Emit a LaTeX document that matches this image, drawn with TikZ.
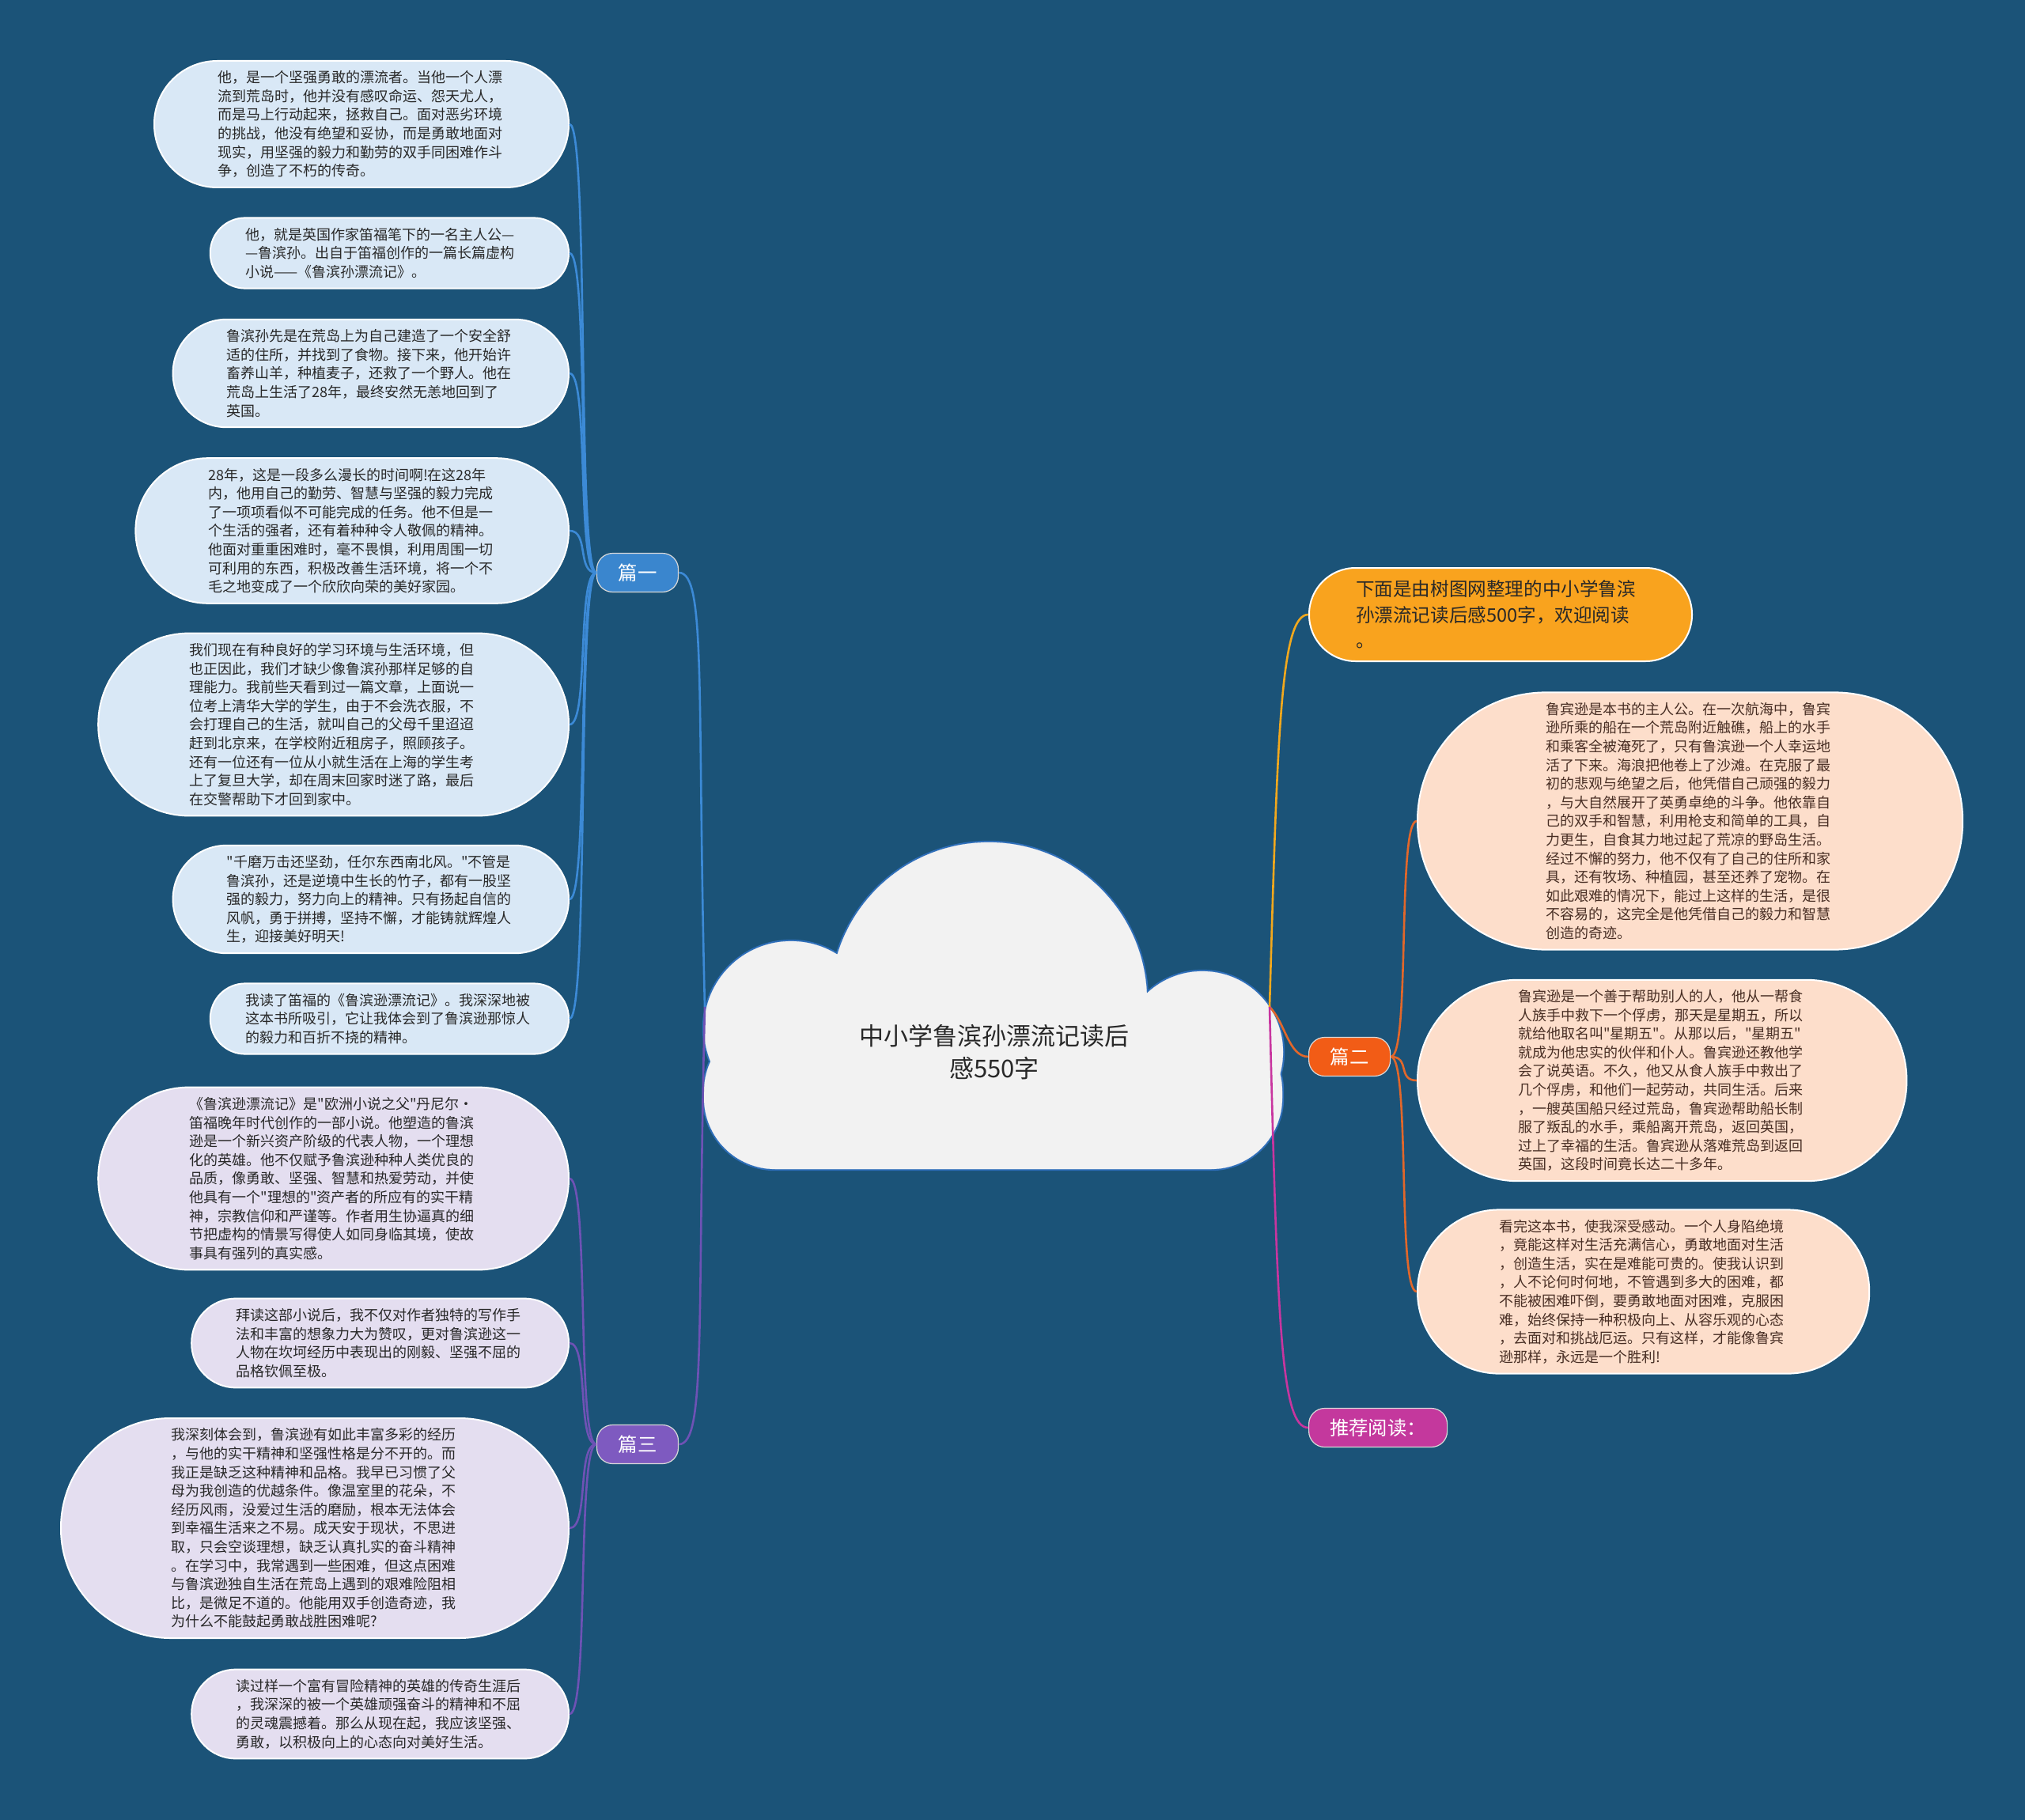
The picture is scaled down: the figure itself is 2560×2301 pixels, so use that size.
\documentclass[tikz,border=0pt]{standalone}
\usepackage{fontspec}
\newfontfamily\cjk{Noto Sans CJK SC}
\definecolor{bgblue}{RGB}{27,83,120}
\definecolor{cloudfill}{RGB}{242,242,242}
\definecolor{cloudline}{RGB}{46,110,185}
\definecolor{leafblue}{RGB}{217,232,246}
\definecolor{leafpurple}{RGB}{228,222,240}
\definecolor{leafpeach}{RGB}{253,222,203}
\definecolor{leaftext}{RGB}{40,40,40}
\definecolor{peachtext}{RGB}{72,46,36}
\definecolor{introorange}{RGB}{249,163,30}
\definecolor{topicone}{RGB}{58,134,206}
\definecolor{topicthree}{RGB}{126,90,192}
\definecolor{topictwo}{RGB}{242,92,22}
\definecolor{topicmore}{RGB}{196,56,157}
\definecolor{lineone}{RGB}{60,138,214}
\definecolor{linethree}{RGB}{110,82,181}
\definecolor{linetwo}{RGB}{226,103,42}
\definecolor{linetop}{RGB}{242,168,29}
\definecolor{linemore}{RGB}{200,53,159}
\tikzset{leaf/.style={rectangle,draw=white,line width=1pt,minimum height={11.8pt*(#1-1)+21pt},rounded corners={5.9pt*(#1-1)+10.3pt},inner xsep={5.9pt*(#1-1)+10.5pt},inner ysep=2pt,text width=182pt,align=left,text=leaftext,font=\cjk\fontsize{9}{11.8}\selectfont},
 leafone/.style={leaf=#1,fill=leafblue,anchor=east}, leafthree/.style={leaf=#1,fill=leafpurple,anchor=east}, leaftwo/.style={leaf=#1,fill=leafpeach,text=peachtext,anchor=west},
 topic/.style={draw=white!85!black,line width=.6pt,rounded corners=10pt,fill=#1,minimum width=51.5pt,minimum height=24.5pt,inner sep=0pt,text=white,font=\cjk\fontsize{12.2}{14}\selectfont},
 link/.style={line width=1.3pt,draw=#1}}

\begin{document}
\begin{tikzpicture}[x=0.5pt,y=-0.5pt]
\useasboundingbox (0,0) rectangle (2560,2301);
\fill[bgblue] (0,0) rectangle (2560,2301);
% cloud
\foreach \lw/\col in {2.2pt/cloudline,0.1pt/cloudfill}{
 \draw[line width=\lw,draw=\col,fill=\col,rounded corners=45pt] (890,1290) rectangle (1621,1478);
 \draw[line width=\lw,draw=\col,fill=\col] (1000,1300) circle[radius=55pt] (1250,1265) circle[radius=100pt] (1520,1330) circle[radius=51pt];
}
\node[align=center,text=leaftext,font=\cjk\fontsize{15.5}{20.4}\selectfont] (root) at (1257,1330) {中小学鲁滨孙漂流记读后\\感550字};
\coordinate (cl) at (891,1273);
\coordinate (cr) at (1605,1273);

% topics
\node[topic=topicone] (p1) at (806,724) {篇一};
\node[topic=topicthree] (p3) at (806,1826) {篇三};
\node[topic=topictwo,anchor=west] (p2) at (1654,1336) {篇二};
\node[topic=topicmore,anchor=west,minimum width=87.5pt] (more) at (1654,1805) {推荐阅读：};
\node[rectangle,draw=white,line width=1pt,fill=introorange,anchor=west,minimum height=59pt,rounded corners=29.3pt,inner xsep=29.5pt,inner ysep=2pt,text width=183pt,align=left,text=leaftext,font=\cjk\fontsize{11.8}{16.3}\selectfont] (intro) at (1654,777) {下面是由树图网整理的中小学鲁滨\\孙漂流记读后感500字，欢迎阅读\\。};

% 篇一
\node[leafone=6] (a1) at (720,157) {他，是一个坚强勇敢的漂流者。当他一个人漂\\流到荒岛时，他并没有感叹命运、怨天尤人，\\而是马上行动起来，拯救自己。面对恶劣环境\\的挑战，他没有绝望和妥协，而是勇敢地面对\\现实，用坚强的毅力和勤劳的双手同困难作斗\\争，创造了不朽的传奇。};
\node[leafone=3] (a2) at (720,320) {他，就是英国作家笛福笔下的一名主人公—\\—鲁滨孙。出自于笛福创作的一篇长篇虚构\\小说——《鲁滨孙漂流记》。};
\node[leafone=5] (a3) at (720,472) {鲁滨孙先是在荒岛上为自己建造了一个安全舒\\适的住所，并找到了食物。接下来，他开始许\\畜养山羊，种植麦子，还救了一个野人。他在\\荒岛上生活了28年，最终安然无恙地回到了\\英国。};
\node[leafone=7] (a4) at (720,671) {28年，这是一段多么漫长的时间啊!在这28年\\内，他用自己的勤劳、智慧与坚强的毅力完成\\了一项项看似不可能完成的任务。他不但是一\\个生活的强者，还有着种种令人敬佩的精神。\\他面对重重困难时，毫不畏惧，利用周围一切\\可利用的东西，积极改善生活环境，将一个不\\毛之地变成了一个欣欣向荣的美好家园。};
\node[leafone=9] (a5) at (720,916) {我们现在有种良好的学习环境与生活环境，但\\也正因此，我们才缺少像鲁滨孙那样足够的自\\理能力。我前些天看到过一篇文章，上面说一\\位考上清华大学的学生，由于不会洗衣服，不\\会打理自己的生活，就叫自己的父母千里迢迢\\赶到北京来，在学校附近租房子，照顾孩子。\\还有一位还有一位从小就生活在上海的学生考\\上了复旦大学，却在周末回家时迷了路，最后\\在交警帮助下才回到家中。};
\node[leafone=5] (a6) at (720,1137) {"千磨万击还坚劲，任尔东西南北风。"不管是\\鲁滨孙，还是逆境中生长的竹子，都有一股坚\\强的毅力，努力向上的精神。只有扬起自信的\\风帆，勇于拼搏，坚持不懈，才能铸就辉煌人\\生，迎接美好明天!};
\node[leafone=3] (a7) at (720,1288) {我读了笛福的《鲁滨逊漂流记》。我深深地被\\这本书所吸引，它让我体会到了鲁滨逊那惊人\\的毅力和百折不挠的精神。};

% 篇三
\node[leafthree=9] (c1) at (720,1490) {《鲁滨逊漂流记》是"欧洲小说之父"丹尼尔·\\笛福晚年时代创作的一部小说。他塑造的鲁滨\\逊是一个新兴资产阶级的代表人物，一个理想\\化的英雄。他不仅赋予鲁滨逊种种人类优良的\\品质，像勇敢、坚强、智慧和热爱劳动，并使\\他具有一个"理想的"资产者的所应有的实干精\\神，宗教信仰和严谨等。作者用生协逼真的细\\节把虚构的情景写得使人如同身临其境，使故\\事具有强列的真实感。};
\node[leafthree=4] (c2) at (720,1698) {拜读这部小说后，我不仅对作者独特的写作手\\法和丰富的想象力大为赞叹，更对鲁滨逊这一\\人物在坎坷经历中表现出的刚毅、坚强不屈的\\品格钦佩至极。};
\node[leafthree=11] (c3) at (720,1932) {我深刻体会到，鲁滨逊有如此丰富多彩的经历\\，与他的实干精神和坚强性格是分不开的。而\\我正是缺乏这种精神和品格。我早已习惯了父\\母为我创造的优越条件。像温室里的花朵，不\\经历风雨，没爱过生活的磨励，根本无法体会\\到幸福生活来之不易。成天安于现状，不思进\\取，只会空谈理想，缺乏认真扎实的奋斗精神\\。在学习中，我常遇到一些困难，但这点困难\\与鲁滨逊独自生活在荒岛上遇到的艰难险阻相\\比，是微足不道的。他能用双手创造奇迹，我\\为什么不能鼓起勇敢战胜困难呢?};
\node[leafthree=4] (c4) at (720,2167) {读过样一个富有冒险精神的英雄的传奇生涯后\\，我深深的被一个英雄顽强奋斗的精神和不屈\\的灵魂震撼着。那么从现在起，我应该坚强、\\勇敢，以积极向上的心态向对美好生活。};

% 篇二
\node[leaftwo=13] (b1) at (1791,1038) {鲁宾逊是本书的主人公。在一次航海中，鲁宾\\逊所乘的船在一个荒岛附近触礁，船上的水手\\和乘客全被淹死了，只有鲁滨逊一个人幸运地\\活了下来。海浪把他卷上了沙滩。在克服了最\\初的悲观与绝望之后，他凭借自己顽强的毅力\\，与大自然展开了英勇卓绝的斗争。他依靠自\\己的双手和智慧，利用枪支和简单的工具，自\\力更生，自食其力地过起了荒凉的野岛生活。\\经过不懈的努力，他不仅有了自己的住所和家\\具，还有牧场、种植园，甚至还养了宠物。在\\如此艰难的情况下，能过上这样的生活，是很\\不容易的，这完全是他凭借自己的毅力和智慧\\创造的奇迹。};
\node[leaftwo=10] (b2) at (1791,1366) {鲁宾逊是一个善于帮助别人的人，他从一帮食\\人族手中救下一个俘虏，那天是星期五，所以\\就给他取名叫"星期五"。从那以后，"星期五"\\就成为他忠实的伙伴和仆人。鲁宾逊还教他学\\会了说英语。不久，他又从食人族手中救出了\\几个俘虏，和他们一起劳动，共同生活。后来\\，一艘英国船只经过荒岛，鲁宾逊帮助船长制\\服了叛乱的水手，乘船离开荒岛，返回英国，\\过上了幸福的生活。鲁宾逊从落难荒岛到返回\\英国，这段时间竟长达二十多年。};
\node[leaftwo=8] (b3) at (1791,1633) {看完这本书，使我深受感动。一个人身陷绝境\\，竟能这样对生活充满信心，勇敢地面对生活\\，创造生活，实在是难能可贵的。使我认识到\\，人不论何时何地，不管遇到多大的困难，都\\不能被困难吓倒，要勇敢地面对困难，克服困\\难，始终保持一种积极向上、从容乐观的心态\\，去面对和挑战厄运。只有这样，才能像鲁宾\\逊那样，永远是一个胜利!};

% links
\draw[link=lineone] (cl) .. controls +(-10,-400) and +(35,0) .. (p1.east);
\draw[link=linethree] (cl) .. controls +(-10,400) and +(35,0) .. (p3.east);
\draw[link=linetop] (cr) .. controls +(10,-350) and +(-35,0) .. (intro.west);
\draw[link=linetwo] (cr) .. controls +(20,20) and +(-25,0) .. (p2.west);
\draw[link=linemore] (cr) .. controls +(10,400) and +(-35,0) .. (more.west);
\foreach \i in {1,...,7} \draw[link=lineone] (p1.west) .. controls +(-25,0) and +(25,0) .. (a\i.east);
\foreach \i in {1,...,4} \draw[link=linethree] (p3.west) .. controls +(-25,0) and +(25,0) .. (c\i.east);
\foreach \i in {1,...,3} \draw[link=linetwo] (p2.east) .. controls +(25,0) and +(-25,0) .. (b\i.west);
\end{tikzpicture}
\end{document}
